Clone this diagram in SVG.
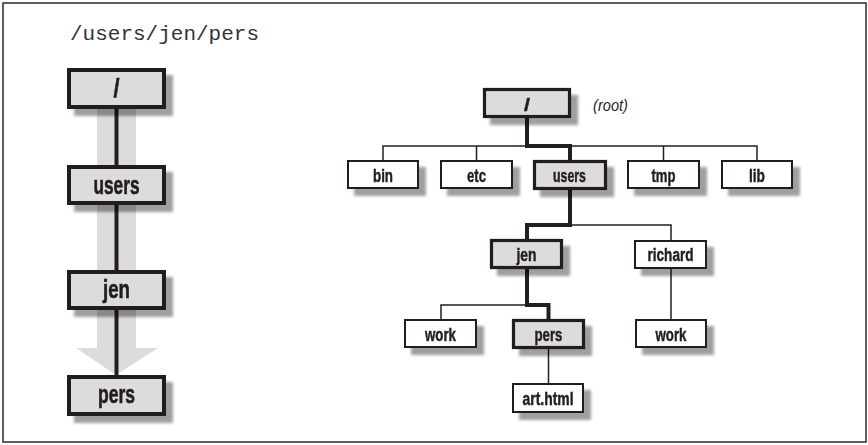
<svg xmlns="http://www.w3.org/2000/svg" width="868" height="445" viewBox="0 0 868 445">
  <defs>
    <filter id="shadow" x="-20%" y="-30%" width="150%" height="180%">
      <feGaussianBlur in="SourceAlpha" stdDeviation="1.6" result="b"/>
      <feOffset in="b" dx="7" dy="7" result="o"/>
      <feComponentTransfer in="o" result="s">
        <feFuncA type="linear" slope="0.38"/>
      </feComponentTransfer>
      <feMerge>
        <feMergeNode in="s"/>
        <feMergeNode in="SourceGraphic"/>
      </feMerge>
    </filter>
  </defs>
  <style>
    .frame { fill: #ffffff; stroke: #2a2a2a; stroke-width: 1.5; }
    .path-title { font-family: "Liberation Mono", "Courier New", monospace; font-size: 21px; fill: #333333; }
    .big rect { fill: #dcdcdd; stroke: #231f20; stroke-width: 4; }
    .big text { font-family: "Liberation Sans", Arial, sans-serif; font-weight: bold; font-size: 26px; fill: #231f20; stroke: #231f20; stroke-width: 0.6; text-anchor: middle; }
    .dir rect { fill: #ffffff; stroke: #231f20; stroke-width: 2; }
    .dir.on rect { fill: #dcdcdd; stroke-width: 3.2; }
    .dir text { font-family: "Liberation Sans", Arial, sans-serif; font-weight: bold; font-size: 18px; fill: #231f20; stroke: #231f20; stroke-width: 0.45; text-anchor: middle; }
    .note { font-family: "Liberation Sans", Arial, sans-serif; font-style: italic; font-size: 16px; fill: #231f20; }
    .band { fill: #dcdcdd; }
    .thin { fill: none; stroke: #231f20; stroke-width: 1.5; }
    .thick { fill: none; stroke: #231f20; stroke-width: 4; stroke-linejoin: miter; }
  </style>

  <rect class="frame" x="3" y="3" width="863" height="439"/>

  <text class="path-title" x="70" y="40">/users/jen/pers</text>

  <!-- wide pale arrow behind the path column -->
  <g id="path-arrow">
    <rect class="band" x="97" y="100" width="39" height="249"/>
    <polygon class="band" points="76,348 158,348 116,375"/>
  </g>

  <g id="connectors">
    <!-- path column -->
    <line class="thick" x1="116.5" y1="108" x2="116.5" y2="376"/>
    <!-- root level -->
    <polyline class="thin" points="383,160 383,146 757,146 757,160"/>
    <line class="thin" x1="476.5" y1="146" x2="476.5" y2="160"/>
    <line class="thin" x1="663.5" y1="146" x2="663.5" y2="160"/>
    <polyline class="thick" points="527,118 527,146 570,146 570,160"/>
    <!-- users level -->
    <polyline class="thin" points="570,225 671,225 671,240"/>
    <polyline class="thick" points="570,190 570,225 527,225 527,240"/>
    <!-- jen level -->
    <polyline class="thin" points="441,319 441,305 527,305"/>
    <polyline class="thick" points="527,269 527,305 548.5,305 548.5,319"/>
    <!-- leaves -->
    <line class="thin" x1="548.5" y1="348" x2="548.5" y2="383"/>
    <line class="thin" x1="671" y1="269" x2="671" y2="319"/>
  </g>

  <!-- path column nodes -->
  <g id="path-root" class="big" filter="url(#shadow)">
    <rect x="69" y="70" width="95" height="37"/>
    <text x="116.5" y="97" textLength="6" lengthAdjust="spacingAndGlyphs">/</text>
  </g>
  <g id="path-users" class="big" filter="url(#shadow)">
    <rect x="69" y="167" width="95" height="36"/>
    <text x="116.5" y="194" textLength="46" lengthAdjust="spacingAndGlyphs">users</text>
  </g>
  <g id="path-jen" class="big" filter="url(#shadow)">
    <rect x="69" y="272" width="95" height="36"/>
    <text x="116.5" y="298" textLength="27" lengthAdjust="spacingAndGlyphs">jen</text>
  </g>
  <g id="path-pers" class="big" filter="url(#shadow)">
    <rect x="69" y="377" width="95" height="37"/>
    <text x="116.5" y="403" textLength="37" lengthAdjust="spacingAndGlyphs">pers</text>
  </g>

  <!-- directory tree nodes -->
  <g id="root" class="dir on" filter="url(#shadow)">
    <rect x="484.5" y="89.5" width="85" height="27"/>
    <text x="527" y="111" textLength="6" lengthAdjust="spacingAndGlyphs">/</text>
  </g>
  <text class="note" x="593" y="111" textLength="35" lengthAdjust="spacingAndGlyphs">(root)</text>

  <g id="bin" class="dir" filter="url(#shadow)">
    <rect x="348" y="161" width="70" height="27"/>
    <text x="383" y="181.5" textLength="20" lengthAdjust="spacingAndGlyphs">bin</text>
  </g>
  <g id="etc" class="dir" filter="url(#shadow)">
    <rect x="441" y="161" width="71" height="27"/>
    <text x="476.5" y="181.5" textLength="19" lengthAdjust="spacingAndGlyphs">etc</text>
  </g>
  <g id="users" class="dir on" filter="url(#shadow)">
    <rect x="534.5" y="161.5" width="71" height="27"/>
    <text x="569.5" y="181.5" textLength="33" lengthAdjust="spacingAndGlyphs">users</text>
  </g>
  <g id="tmp" class="dir" filter="url(#shadow)">
    <rect x="628" y="161" width="71" height="27"/>
    <text x="663.5" y="181.5" textLength="24" lengthAdjust="spacingAndGlyphs">tmp</text>
  </g>
  <g id="lib" class="dir" filter="url(#shadow)">
    <rect x="722" y="161" width="70" height="27"/>
    <text x="757" y="181.5" textLength="16" lengthAdjust="spacingAndGlyphs">lib</text>
  </g>

  <g id="jen" class="dir on" filter="url(#shadow)">
    <rect x="491.5" y="240.5" width="70" height="27"/>
    <text x="526.5" y="260.5" textLength="20" lengthAdjust="spacingAndGlyphs">jen</text>
  </g>
  <g id="richard" class="dir" filter="url(#shadow)">
    <rect x="635" y="241" width="71" height="27"/>
    <text x="670.5" y="261" textLength="46" lengthAdjust="spacingAndGlyphs">richard</text>
  </g>

  <g id="jen-work" class="dir" filter="url(#shadow)">
    <rect x="405" y="320" width="71" height="27"/>
    <text x="440.5" y="340.5" textLength="31" lengthAdjust="spacingAndGlyphs">work</text>
  </g>
  <g id="pers" class="dir on" filter="url(#shadow)">
    <rect x="513.5" y="320.5" width="70" height="27"/>
    <text x="548.5" y="340.5" textLength="28" lengthAdjust="spacingAndGlyphs">pers</text>
  </g>
  <g id="richard-work" class="dir" filter="url(#shadow)">
    <rect x="636" y="320" width="70" height="27"/>
    <text x="671" y="340.5" textLength="31" lengthAdjust="spacingAndGlyphs">work</text>
  </g>

  <g id="art-html" class="dir" filter="url(#shadow)">
    <rect x="513" y="384" width="70" height="28"/>
    <text x="548" y="404.5" textLength="51" lengthAdjust="spacingAndGlyphs">art.html</text>
  </g>
</svg>
